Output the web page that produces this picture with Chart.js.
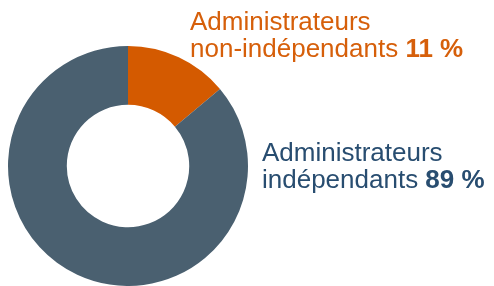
<!DOCTYPE html>
<html><head><meta charset="utf-8">
<script src="https://cdn.jsdelivr.net/npm/chart.js@4/dist/chart.umd.min.js"></script>
<style>html,body{margin:0;padding:0;background:#fff;}#wrap{width:494px;height:286px;}</style>
</head><body><div id="wrap"><canvas id="c" width="494" height="286"></canvas></div>
<script>
const categories = ["Administrateurs non-indépendants", "Administrateurs indépendants"];
const sliceValues = [13.9, 86.1];
const pctLabels = ["11 %", "89 %"];
const labelLines = [["Administrateurs", "non-indépendants"], ["Administrateurs", "indépendants"]];
const sliceColors = ["#d45a00", "#4a6070"];
const textColors = ["#d65f0a", "#284d70"];

const labelPlugin = {
  id: 'sideLabels',
  afterDraw(chart) {
    const ctx = chart.ctx;
    const pos = [{x:190, y:[30,57]}, {x:262, y:[161,188]}];
    ctx.save();
    ctx.textBaseline = 'alphabetic';
    ctx.textAlign = 'left';
    for (let i = 0; i < 2; i++) {
      ctx.fillStyle = textColors[i];
      ctx.font = '26px "Liberation Sans", Arial, sans-serif';
      ctx.fillText(labelLines[i][0], pos[i].x, pos[i].y[0]);
      const t = labelLines[i][1] + ' ';
      ctx.fillText(t, pos[i].x, pos[i].y[1]);
      const w = ctx.measureText(t).width;
      ctx.font = 'bold 26px "Liberation Sans", Arial, sans-serif';
      ctx.fillText(pctLabels[i], pos[i].x + w, pos[i].y[1]);
    }
    ctx.restore();
  }
};

new Chart(document.getElementById('c'), {
  type: 'doughnut',
  data: { labels: categories, datasets: [{ data: sliceValues, backgroundColor: sliceColors, borderWidth: 0 }] },
  options: {
    responsive: false, animation: false, cutout: '51%',
    layout: { padding: { left: 8, top: 46, right: 246, bottom: 0 } },
    plugins: { legend: { display: false }, tooltip: { enabled: false } }
  },
  plugins: [labelPlugin]
});
</script></body></html>
